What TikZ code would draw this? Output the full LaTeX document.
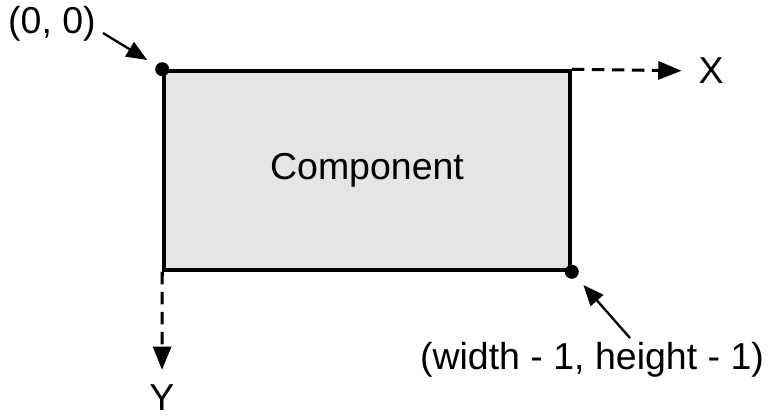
\documentclass[tikz,border=0pt]{standalone}
\usepackage{fontspec}
\setmainfont{Liberation Sans}
\usetikzlibrary{arrows.meta,positioning}

\begin{document}
\begin{tikzpicture}[x=0.03cm,y=-0.03cm,
  component/.style={draw,line width=3pt,fill=black!10,
    minimum width=12.18cm,minimum height=5.97cm,inner sep=0pt,
    font=\fontsize{32}{36}\selectfont},
  axis/.style={dash pattern=on 0.38cm off 0.22cm,line width=2.6pt,
    -{Triangle[length=0.7cm,width=0.54cm]}},
  pointer/.style={line width=2pt,
    -{Triangle[length=0.62cm,width=0.5cm]}},
  coordtext/.style={font=\fontsize{32}{36}\selectfont,inner sep=0pt},
  corner/.style={circle,fill=black,inner sep=0pt,minimum size=0.42cm}
]
\useasboundingbox (0,0) rectangle (777,420);

% The component and its two marked corners.
\node[component] (comp) at (367,170.5) {Component};
\node[corner] (topleft) at (comp.north west) {};
\node[corner] (botright) at (comp.south east) {};

% Axes leave the top left corner along the edges.
\node[coordtext] (xlabel) at (711,71) {X};
\node[coordtext] (ylabel) at (162,398) {Y};
\draw[axis,shorten >=0.5cm] (comp.north east) -- (xlabel.west);
\draw[axis,shorten >=0.45cm] (comp.south west) -- (ylabel.north);

% Corner captions with their pointers.
\node[coordtext] (origin) at (52,24) {(0, 0)};
\node[coordtext] (size) at (592,360) {(width - 1, height - 1)};
\coordinate (originTail) at (103,33);
\coordinate (sizeTail) at (630,338);
\draw[pointer,shorten >=0.53cm] (originTail) -- (topleft.center);
\draw[pointer,shorten >=0.53cm] (sizeTail) -- (botright.center);
\end{tikzpicture}
\end{document}
